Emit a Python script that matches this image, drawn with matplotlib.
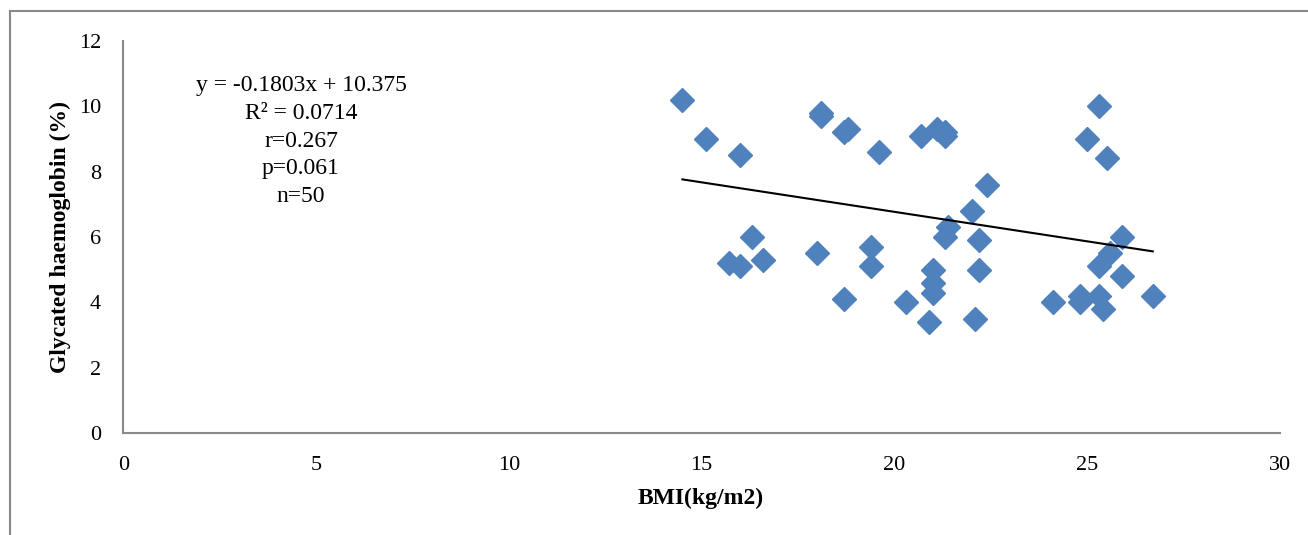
import numpy as np
import matplotlib.pyplot as plt
from matplotlib.lines import Line2D

plt.rcParams['font.family'] = ['Liberation Serif', 'DejaVu Serif']

bmi = [14.5, 15.1, 16.0, 18.1, 18.1, 18.7, 18.8, 19.6, 20.7, 21.1,
       21.3, 21.3, 25.3, 25.0, 25.5, 22.4, 22.0, 22.2, 22.2, 22.1,
       21.4, 21.3, 25.9, 25.6, 25.3, 25.9, 26.7, 25.3, 25.4, 24.8,
       24.8, 24.1, 16.3, 15.7, 16.0, 16.6, 18.0, 19.4, 19.4, 18.7,
       20.3, 21.0, 21.0, 21.0, 20.9]
hba1c = [10.2, 9.0, 8.5, 9.8, 9.7, 9.2, 9.3, 8.6, 9.1, 9.3,
         9.2, 9.1, 10.0, 9.0, 8.4, 7.6, 6.8, 5.9, 5.0, 3.5,
         6.3, 6.0, 6.0, 5.5, 5.1, 4.8, 4.2, 4.2, 3.8, 4.2,
         4.0, 4.0, 6.0, 5.2, 5.1, 5.3, 5.5, 5.7, 5.1, 4.1,
         4.0, 5.0, 4.6, 4.3, 3.4]

slope = -0.1803
intercept = 10.375
stats_text = "y = -0.1803x + 10.375\nR² = 0.0714\nr=0.267\np=0.061\nn=50"

fig = plt.figure(figsize=(13.08, 5.35), dpi=100)
ax = fig.add_axes([0.0943, 0.19, 0.8843, 0.734])

ax.plot(bmi, hba1c, linestyle='none', marker='D', markersize=12.5,
        color='#4F81BD', markeredgecolor='#4F81BD')

xs = np.array([min(bmi), max(bmi)])
ax.plot(xs, slope * xs + intercept, color='black', linewidth=1.5)

ax.set_xlim(0, 30)
ax.set_ylim(0, 12)
ax.set_xticks(range(0, 31, 5))
ax.set_yticks(range(0, 13, 2))
ax.tick_params(length=0, labelsize=16, pad=16)
ax.tick_params(axis='x', pad=16)

for s in ['top', 'right']:
    ax.spines[s].set_visible(False)
for s in ['left', 'bottom']:
    ax.spines[s].set_color('#898989')
    ax.spines[s].set_linewidth(1.5)

ax.set_xlabel('BMI(kg/m2)', fontsize=17, fontweight='bold', va='center')
ax.set_ylabel('Glycated haemoglobin (%)', fontsize=17, fontweight='bold', va='center')
ax.xaxis.set_label_coords(0.4989, -0.165)
ax.yaxis.set_label_coords(-0.0547, 0.5)

ax.text(0.1536, 0.912, stats_text, transform=ax.transAxes, ha='center', va='top',
        fontsize=17, linespacing=1.42)

# outer chart frame (left and top edges only visible)
fig.add_artist(Line2D([10 / 1308, 10 / 1308], [0, 1 - 11 / 535],
                      transform=fig.transFigure, color='#898989', linewidth=1.5))
fig.add_artist(Line2D([10 / 1308, 1], [1 - 11 / 535, 1 - 11 / 535],
                      transform=fig.transFigure, color='#898989', linewidth=1.5))

fig.savefig('out.png', dpi=100)
